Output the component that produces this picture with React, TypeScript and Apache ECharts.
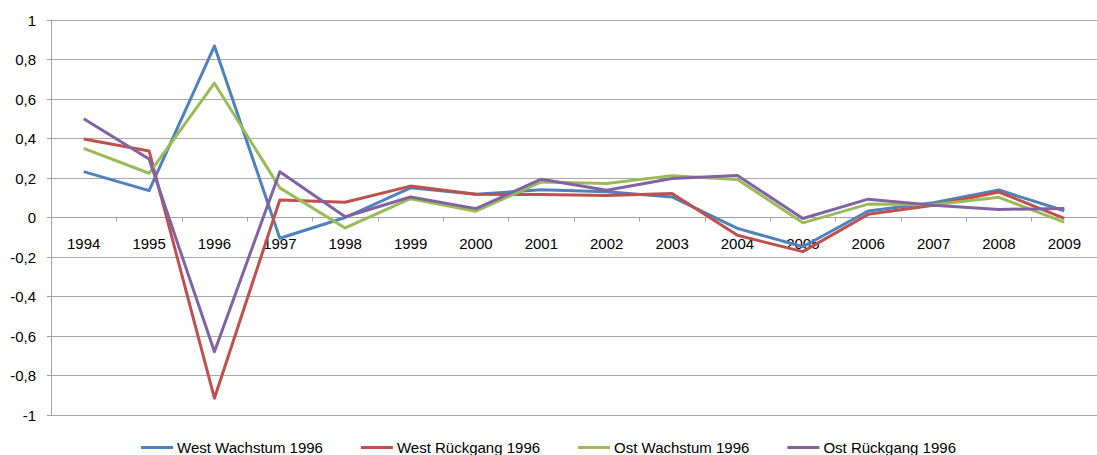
import React, { useEffect, useRef } from "react";
import * as echarts from "echarts";

const years = ["1994","1995","1996","1997","1998","1999","2000","2001","2002","2003","2004","2005","2006","2007","2008","2009"];
const westWachstum = [0.232, 0.136, 0.868, -0.105, 0.0, 0.15, 0.118, 0.14, 0.13, 0.104, -0.055, -0.148, 0.033, 0.075, 0.139, 0.034];
const westRueckgang = [0.397, 0.337, -0.915, 0.089, 0.077, 0.159, 0.118, 0.116, 0.112, 0.121, -0.09, -0.173, 0.016, 0.062, 0.129, -0.004];
const ostWachstum = [0.35, 0.224, 0.68, 0.15, -0.053, 0.095, 0.032, 0.18, 0.172, 0.212, 0.193, -0.027, 0.068, 0.065, 0.102, -0.023];
const ostRueckgang = [0.5, 0.296, -0.68, 0.232, 0.004, 0.104, 0.045, 0.194, 0.138, 0.197, 0.213, -0.005, 0.093, 0.062, 0.041, 0.046];
const seriesNames = ["West Wachstum 1996", "West Rückgang 1996", "Ost Wachstum 1996", "Ost Rückgang 1996"];
const seriesColors = ["#4F81BD", "#C0504D", "#9BBB59", "#8064A2"];

const FONT = "Liberation Sans";

export default function App() {
  const ref = useRef<HTMLDivElement>(null);
  useEffect(() => {
    if (!ref.current) return;
    const chart = echarts.init(ref.current, null, { renderer: "svg" });
    const dataSets = [westWachstum, westRueckgang, ostWachstum, ostRueckgang];
    const gridTop = 20;
    const gridHeight = 395;
    chart.setOption({
      animation: false,
      backgroundColor: "#ffffff",
      grid: { left: 51, top: gridTop, width: 1054, height: gridHeight, containLabel: false },
      legend: {
        top: 435,
        left: "center",
        icon: "rect",
        itemWidth: 32,
        itemHeight: 3,
        itemGap: 38,
        textStyle: { fontFamily: FONT, fontSize: 15, color: "#000", padding: [0, 0, 0, -1] },
        data: seriesNames,
      },
      xAxis: {
        type: "category",
        data: years,
        boundaryGap: true,
        offset: -gridHeight / 2,
        axisLine: { onZero: false, lineStyle: { color: "#a0a0a0", width: 1 } },
        axisTick: { show: true, length: 4, interval: 0, lineStyle: { color: "#a0a0a0" } },
        axisLabel: { interval: 0, margin: 18, fontFamily: FONT, fontSize: 15, color: "#000" },
        splitLine: { show: false },
      },
      yAxis: {
        type: "value",
        min: -1,
        max: 1,
        interval: 0.2,
        axisLine: { show: true, lineStyle: { color: "#a0a0a0", width: 1 } },
        axisTick: { show: true, length: 4, lineStyle: { color: "#a0a0a0" } },
        axisLabel: {
          margin: 15,
          fontFamily: FONT,
          fontSize: 15,
          color: "#000",
          formatter: (v: number) => String(Math.round(v * 10) / 10).replace(".", ","),
        },
        splitLine: { show: true, lineStyle: { color: "#a8a8a8", width: 1 } },
      },
      series: dataSets.map((d, i) => ({
        name: seriesNames[i],
        type: "line",
        data: d,
        showSymbol: false,
        symbol: "none",
        smooth: false,
        color: seriesColors[i],
        lineStyle: { width: 3, color: seriesColors[i], join: "round" },
      })),
    });
    return () => chart.dispose();
  }, []);
  return (
    <div
      ref={ref}
      style={{ position: "fixed", left: 0, top: 0, width: 1097, height: 455, background: "#fff" }}
    />
  );
}
